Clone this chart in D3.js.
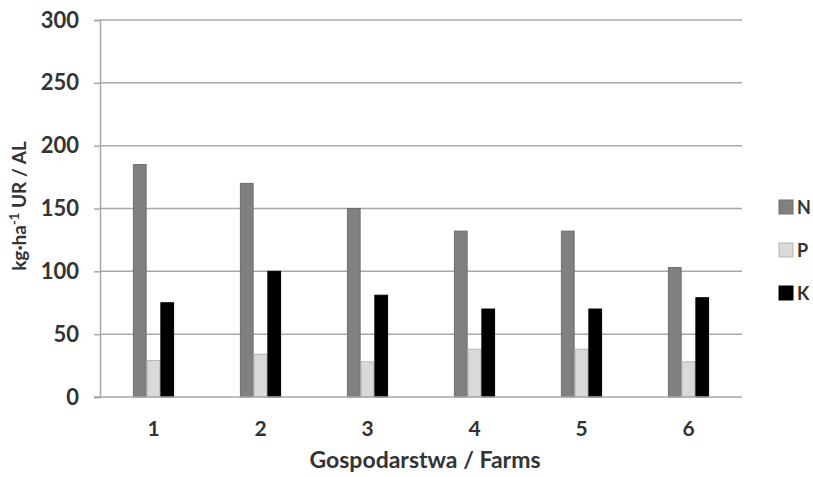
<!DOCTYPE html>
<html><head><meta charset="utf-8">
<script src="https://cdn.jsdelivr.net/npm/d3@7"></script>
<style>
html,body{margin:0;padding:0;background:#fff;}
svg{display:block;}
text{font-family:Lato,"Open Sans",sans-serif;font-weight:bold;fill:#333;}
</style></head>
<body>
<svg id="chart" width="813" height="477"></svg>
<script>
const categories = ["1","2","3","4","5","6"];
const seriesNames = ["N","P","K"];
const valuesN = [185,170,150,132,132,103];
const valuesP = [29,34,28,38,38,28];
const valuesK = [75,100,81,70,70,79];
const yTicks = [0,50,100,150,200,250,300];
const colors = {N:"#808080",P:"#d9d9d9",K:"#000000"};
const strokes = {N:"#6e6e6e",P:"#b5b5b5",K:"#000000"};

const svg = d3.select("#chart");
const mLeft = 100, mRight = 742, mTop = 20, mBottom = 397;

const x0 = d3.scaleBand().domain(categories).range([mLeft,mRight]).paddingInner(0.615).paddingOuter(0.3075);
const x1 = d3.scaleBand().domain(seriesNames).range([0,x0.bandwidth()]).padding(0);
const y = d3.scaleLinear().domain([0,300]).range([mBottom,mTop]);

// gridlines
svg.append("g").selectAll("line").data(yTicks.filter(d=>d>0)).join("line")
  .attr("x1",mLeft).attr("x2",mRight).attr("y1",d=>y(d)).attr("y2",d=>y(d))
  .attr("stroke","#a8a8a8").attr("stroke-width",1.5);

// y axis
const yAxis = d3.axisLeft(y).tickValues(yTicks).tickSize(6).tickPadding(15);
const gy = svg.append("g").attr("transform",`translate(${mLeft},0)`).call(yAxis);
gy.select(".domain").attr("stroke","#a8a8a8").attr("stroke-width",1.5);
gy.selectAll(".tick line").attr("stroke","#a8a8a8").attr("stroke-width",1.5);
gy.selectAll(".tick text").style("font-size","22px").attr("fill","#333").style("font-family","Lato, sans-serif").style("font-weight","bold");

// bars
const data = categories.map((c,i)=>({cat:c, vals:[{k:"N",v:valuesN[i]},{k:"P",v:valuesP[i]},{k:"K",v:valuesK[i]}]}));
const groups = svg.append("g").selectAll("g").data(data).join("g")
  .attr("transform",d=>`translate(${x0(d.cat)},0)`);
groups.selectAll("rect").data(d=>d.vals).join("rect")
  .attr("x",d=>x1(d.k)+0.5).attr("width",x1.bandwidth()-1)
  .attr("y",d=>y(d.v)).attr("height",d=>y(0)-y(d.v))
  .attr("fill",d=>colors[d.k]).attr("stroke",d=>strokes[d.k]).attr("stroke-width",1);

// x axis
const xAxis = d3.axisBottom(x0).tickSize(0).tickPadding(24);
const gx = svg.append("g").attr("transform",`translate(0,${mBottom})`).call(xAxis);
gx.select(".domain").remove();
svg.append("line").attr("x1",mLeft-6).attr("x2",mRight).attr("y1",mBottom).attr("y2",mBottom)
  .attr("stroke","#a8a8a8").attr("stroke-width",1.5);
gx.selectAll(".tick text").style("font-size","21px").attr("fill","#333").style("font-family","Lato, sans-serif").style("font-weight","bold");

// axis titles
svg.append("text").attr("x",425).attr("y",468).attr("text-anchor","middle")
  .style("font-size","23px").text("Gospodarstwa / Farms");
const yt = svg.append("text").attr("transform","translate(26,206) rotate(-90)").attr("text-anchor","middle")
  .style("font-size","19px");
yt.append("tspan").text("kg·ha");
yt.append("tspan").attr("dy","-7").style("font-size","13px").text("-1");
yt.append("tspan").attr("dy","7").text(" UR / AL");

// legend
const legY = d3.scalePoint().domain(seriesNames).range([207,293]);
const leg = svg.append("g").selectAll("g").data(seriesNames).join("g")
  .attr("transform",d=>`translate(779,${legY(d)})`);
leg.append("rect").attr("x",0).attr("y",-7).attr("width",14).attr("height",14)
  .attr("fill",d=>colors[d]).attr("stroke",d=>strokes[d]);
leg.append("text").attr("x",18).attr("y",7).style("font-size","18px").text(d=>d);
</script>
</body></html>
